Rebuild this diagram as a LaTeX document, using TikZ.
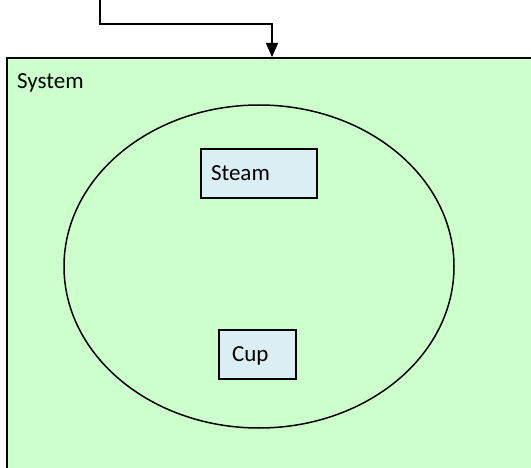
\documentclass[tikz,border=0pt]{standalone}
\usepackage{fontspec}
\setmainfont{Carlito}
\usetikzlibrary{arrows.meta,calc,shapes.geometric}
\definecolor{sysgreen}{HTML}{CCFFCC}
\definecolor{boxblue}{HTML}{DAEEF3}
\begin{document}
\begin{tikzpicture}[x=1pt,y=-1pt,
  font=\fontsize{23}{27}\selectfont,
  sysbox/.style={draw, line width=1.8pt, fill=sysgreen, inner sep=0pt},
  scopeshape/.style={draw, ellipse, line width=1.5pt, inner sep=0pt},
  itembox/.style={draw, line width=1.5pt, fill=boxblue, minimum height=49pt,
    inner ysep=0pt, text height=15pt, text depth=0pt, align=left},
  conn/.style={line width=1.5pt, -{Triangle[length=14pt,width=12pt]}}]
\useasboundingbox (0,0) rectangle (531,468);
\clip (0,0) rectangle (531,468);
\node[sysbox, minimum width=560pt, minimum height=440pt, anchor=north west] (sys) at (6,57) {};
\node[anchor=base west, inner sep=0pt] (syslabel) at (17,89) {System};
\node[scopeshape, minimum width=390pt, minimum height=323pt] (scope) at (259,266.5) {};
\node[itembox, text width=96pt, inner xsep=10pt] (steam) at (259,173.5) {Steam};
\node[itembox, text width=51pt, inner xsep=13pt] (cup) at (257.5,354.5) {Cup};
\coordinate (src) at (100,0);
\coordinate (entry) at ($(sys.north west)+(266,0)$);
\draw[conn] (src) -- ++(0,24) -| (entry);
\end{tikzpicture}
\end{document}
